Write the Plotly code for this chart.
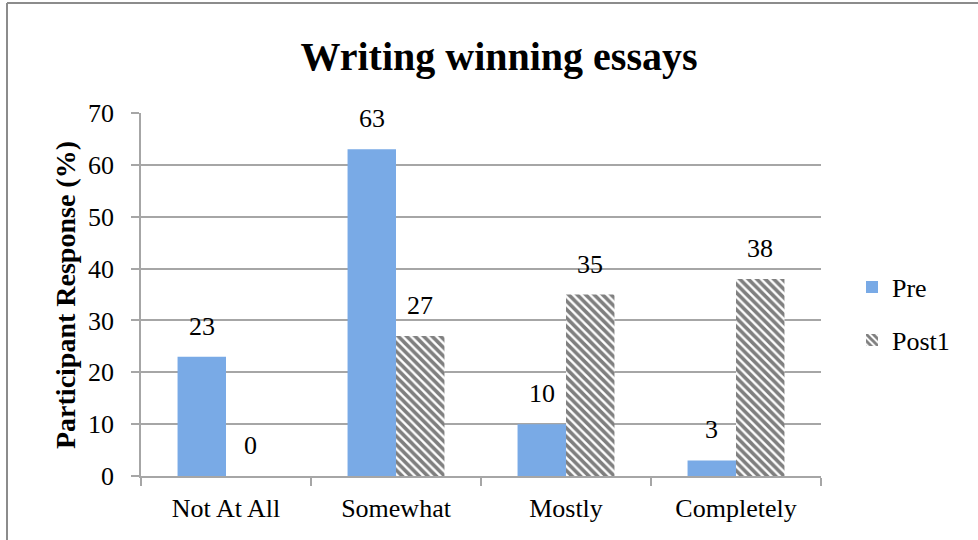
import plotly.graph_objects as go

categories = ["Not At All", "Somewhat", "Mostly", "Completely"]
pre_values = [23, 63, 10, 3]
post_values = [0, 27, 35, 38]
y_ticks = [0, 10, 20, 30, 40, 50, 60, 70]

W, H = 978, 540
L, R, T, B = 141, 157, 113, 64
pw, ph = W - L - R, H - T - B

def px(x):
    return (x - L) / pw

def py(y):
    return (H - B - y) / ph

FONT = "Liberation Serif"
grid = "#a6a6a6"
BARGAP = 0.43
half_bar = pw / len(categories) * (1 - BARGAP) / 4

fig = go.Figure()
fig.add_trace(go.Bar(
    name="Pre", x=categories, y=pre_values,
    marker=dict(color="#79aae6", line=dict(width=0)),
    legend="legend",
))
fig.add_trace(go.Bar(
    name="Post1", x=categories, y=post_values,
    marker=dict(color="white", line=dict(width=0),
                pattern=dict(shape="\\", fgcolor="black", bgcolor="white",
                             size=6, solidity=0.6)),
    legend="legend2",
))

annotations = []
for series, shift in ((pre_values, -half_bar), (post_values, half_bar)):
    for cat, val in zip(categories, series):
        annotations.append(dict(
            x=cat, y=val, xref="x", yref="y", text=str(val), showarrow=False,
            xanchor="center", yanchor="bottom", xshift=shift, yshift=14,
            font=dict(family=FONT, size=26, color="black")))
annotations.append(dict(text="<b>Participant Response (%)</b>", textangle=-90,
                        x=px(65), y=py(295), xref="paper", yref="paper",
                        showarrow=False, xanchor="center", yanchor="middle",
                        font=dict(family=FONT, size=28, color="black")))

fig.update_layout(
    width=W, height=H,
    margin=dict(l=L, r=R, t=T, b=B, autoexpand=False),
    paper_bgcolor="white", plot_bgcolor="white",
    barmode="group", bargap=BARGAP, bargroupgap=0,
    showlegend=True,
    font=dict(family=FONT, size=26, color="black"),
    title=dict(text="<b>Writing winning essays</b>", xref="container", x=499 / W,
               xanchor="center", y=1 - 56 / H, yanchor="middle",
               font=dict(family=FONT, size=40, color="black")),
    xaxis=dict(showline=True, linecolor=grid, linewidth=1.5,
               ticks="outside", tickson="boundaries", ticklen=8, tickcolor=grid,
               tickwidth=1.5, showgrid=False, tickfont=dict(size=26),
               ticklabelstandoff=8),
    yaxis=dict(range=[0, 70], tickvals=y_ticks, showline=True, linecolor=grid,
               linewidth=1.5, ticks="outside", ticklen=8, tickcolor=grid, tickwidth=1.5,
               showgrid=True, gridcolor=grid, gridwidth=1.5, zeroline=False,
               tickfont=dict(size=26), ticklabelstandoff=12),
    legend=dict(x=px(852), y=py(287), xanchor="left", yanchor="middle",
                font=dict(size=26), bgcolor="rgba(0,0,0,0)", itemwidth=30),
    legend2=dict(x=px(852), y=py(340), xanchor="left", yanchor="middle",
                 font=dict(size=26), bgcolor="rgba(0,0,0,0)", itemwidth=30),
    annotations=annotations,
    shapes=[
        dict(type="line", xref="paper", yref="paper", x0=px(7), x1=px(7),
             y0=py(3), y1=py(H), line=dict(color="#8c8c8c", width=2)),
        dict(type="line", xref="paper", yref="paper", x0=px(7), x1=px(W),
             y0=py(3), y1=py(3), line=dict(color="#8c8c8c", width=2)),
    ],
)

fig.write_html("out.html")
